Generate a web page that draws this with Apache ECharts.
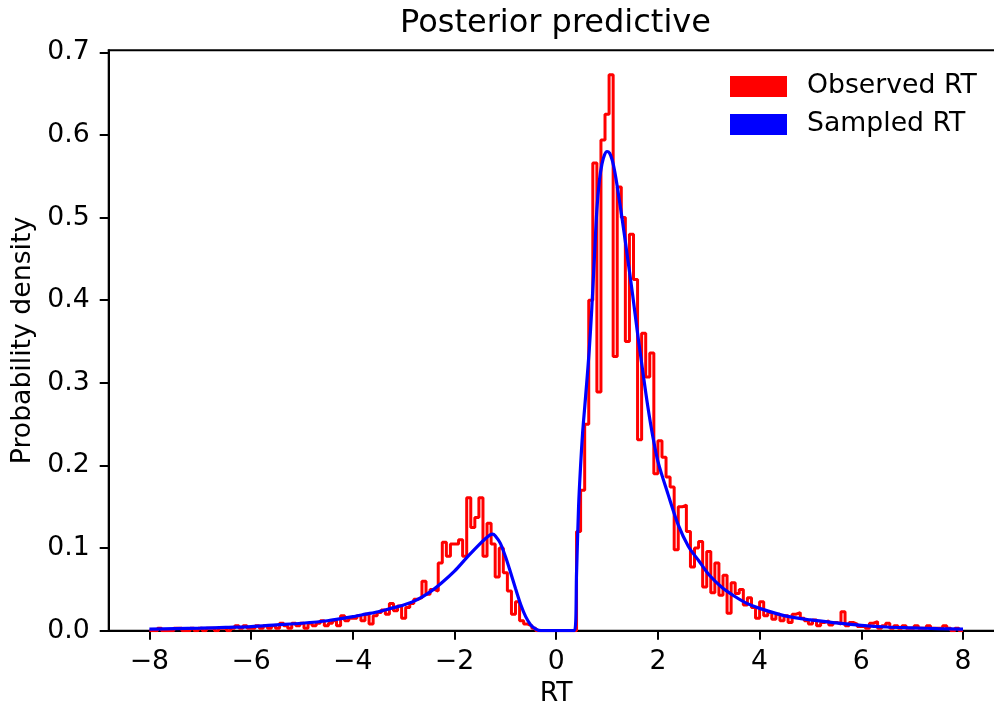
<!DOCTYPE html>
<html><head><meta charset="utf-8">
<script src="https://cdn.jsdelivr.net/npm/echarts@6/dist/echarts.min.js"></script>
<style>html,body{margin:0;padding:0;background:#fff}#c{width:994px;height:708px}</style>
</head><body><div id="c"></div>
<script>
// Observed RT histogram (step), 200 bins from -8 to 8
const binStart = -8;
const binWidth = 0.08;
const observedDensity = [
  0, 0, 0.003, 0, 0, 0, 0.003, 0.003, 0, 0,
  0.003, 0, 0.003, 0, 0.003, 0.003, 0, 0.003, 0.003, 0,
  0.003, 0.006, 0.003, 0.006, 0.003, 0.003, 0.006, 0.003, 0.006, 0.003,
  0.006, 0.003, 0.009, 0.006, 0.003, 0.009, 0.006, 0.009, 0.003, 0.009,
  0.006, 0.009, 0.012, 0.006, 0.009, 0.012, 0.006, 0.018, 0.012, 0.015,
  0.015, 0.018, 0.012, 0.020, 0.008, 0.018, 0.022, 0.025, 0.020, 0.033,
  0.024, 0.030, 0.015, 0.028, 0.033, 0.038, 0.040, 0.060, 0.044, 0.050,
  0.048, 0.082, 0.107, 0.090, 0.105, 0.105, 0.110, 0.090, 0.161, 0.125,
  0.137, 0.161, 0.090, 0.130, 0.105, 0.065, 0.100, 0.070, 0.048, 0.020,
  0.035, 0.012, 0.008, 0.006, 0.003, 0, 0, 0, 0, 0,
  0, 0, 0, 0, 0, 0.12, 0.17, 0.25, 0.40, 0.566,
  0.289, 0.594, 0.625, 0.673, 0.332, 0.537, 0.50, 0.35, 0.48, 0.425,
  0.231, 0.36, 0.307, 0.336, 0.19, 0.23, 0.21, 0.186, 0.174, 0.098,
  0.15, 0.152, 0.12, 0.077, 0.10, 0.108, 0.053, 0.096, 0.046, 0.082,
  0.043, 0.067, 0.021, 0.058, 0.045, 0.05, 0.031, 0.04, 0.028, 0.015,
  0.035, 0.018, 0.022, 0.014, 0.02, 0.012, 0.018, 0.01, 0.02, 0.022,
  0.015, 0.012, 0.008, 0.013, 0.006, 0.01, 0.012, 0.007, 0.01, 0.008,
  0.023, 0.006, 0.01, 0.008, 0.005, 0.006, 0.003, 0.009, 0.011, 0.003,
  0.006, 0.009, 0.003, 0.006, 0.003, 0.006, 0.003, 0.003, 0.006, 0.003,
  0.003, 0.006, 0.003, 0.003, 0.003, 0.006, 0.003, 0, 0.003, 0
];
// Sampled RT density (smooth curve)
const sampledX = [
  -8.0, -7.5, -7.0, -6.5, -6.0, -5.5, -5.0, -4.5, -4.0, -3.75,
  -3.5, -3.25, -3.0, -2.75, -2.5, -2.25, -2.0, -1.75, -1.5, -1.4,
  -1.3, -1.25, -1.2, -1.1, -1.0, -0.9, -0.8, -0.7,
  -0.6, -0.5, -0.4, -0.3, 0.36, 0.40, 0.44, 0.48, 0.52, 0.56,
  0.60, 0.65, 0.70, 0.75, 0.80, 0.85, 0.90, 0.95, 1.00, 1.05,
  1.10, 1.15, 1.20, 1.30, 1.40, 1.50, 1.60, 1.70, 1.80, 1.90, 2.00,
  2.20, 2.40, 2.60, 2.80, 3.00, 3.25, 3.50, 3.75, 4.00, 4.50,
  5.00, 5.50, 6.00, 6.50, 7.00, 7.50, 8.00
];
const sampledY = [
  0.002, 0.0025, 0.003, 0.004, 0.005, 0.007, 0.009, 0.012, 0.017, 0.020,
  0.023, 0.027, 0.031, 0.037, 0.046, 0.058, 0.072, 0.089, 0.105, 0.111,
  0.116, 0.117, 0.115, 0.106, 0.090, 0.071, 0.051, 0.032,
  0.017, 0.007, 0.002, 0, 0, 0.07, 0.15, 0.20, 0.24, 0.27,
  0.30, 0.34, 0.39, 0.45, 0.51, 0.545, 0.565, 0.576, 0.580, 0.578,
  0.570, 0.556, 0.538, 0.497, 0.453, 0.408, 0.36, 0.315, 0.272, 0.235, 0.205,
  0.165, 0.128, 0.102, 0.085, 0.068, 0.053, 0.042, 0.033, 0.027, 0.018,
  0.013, 0.0095, 0.0065, 0.0045, 0.0035, 0.0025, 0.002
];
const xTicks = [-8, -6, -4, -2, 0, 2, 4, 6, 8];
const yTicks = [0, 0.1, 0.2, 0.3, 0.4, 0.5, 0.6, 0.7];
const seriesNames = ['Observed RT', 'Sampled RT'];
const titleText = 'Posterior predictive';
const xName = 'RT';
const yName = 'Probability density';

const stepData = [[binStart, 0]];
observedDensity.forEach((v, i) => stepData.push([+(binStart + binWidth * i).toFixed(4), v]));
const lastEdge = +(binStart + binWidth * observedDensity.length).toFixed(4);
stepData.push([lastEdge, observedDensity[observedDensity.length - 1]]);
stepData.push([lastEdge, 0]);
const curveData = sampledX.map((x, i) => [x, sampledY[i]]);

const FONT = 'DejaVu Sans';
const FS = 26.7;
const chart = echarts.init(document.getElementById('c'), null, {renderer: 'canvas'});
chart.setOption({
  animation: false,
  backgroundColor: '#fff',
  title: {
    text: titleText, left: 395, top: 3,
    textStyle: {fontFamily: FONT, fontSize: 32, fontWeight: 'normal', color: '#000'}
  },
  legend: {
    orient: 'vertical', left: 725, top: 68,
    itemWidth: 57, itemHeight: 21, itemGap: 11,
    icon: 'rect',
    textStyle: {fontFamily: FONT, fontSize: FS, color: '#000', padding: [0, 0, 0, 15]},
    data: [
      {name: seriesNames[0], itemStyle: {color: '#ff0000', borderWidth: 0}},
      {name: seriesNames[1], itemStyle: {color: '#0000ff', borderWidth: 0}}
    ]
  },
  grid: {
    left: 108.7, top: 50.3, right: -9.7, bottom: 77.3,
    show: true, borderColor: '#000', borderWidth: 2, backgroundColor: 'transparent',
    containLabel: false, outerBoundsMode: 'none'
  },
  xAxis: {
    type: 'value', min: -8.8, max: 8.8,
    name: xName, nameLocation: 'middle', nameGap: 49,
    nameTextStyle: {fontFamily: FONT, fontSize: FS, color: '#000'},
    splitLine: {show: false},
    axisLine: {show: true, onZero: false, lineStyle: {color: '#000', width: 2}},
    axisTick: {show: true, inside: false, length: 9, lineStyle: {color: '#000', width: 2}, customValues: xTicks},
    axisLabel: {
      customValues: xTicks, margin: 18,
      fontFamily: FONT, fontSize: FS, color: '#000',
      formatter: v => String(v).replace('-', '\u2212')
    }
  },
  yAxis: {
    type: 'value', min: 0, max: 0.7025,
    name: yName, nameLocation: 'middle', nameGap: 72, nameRotate: 90,
    nameTextStyle: {fontFamily: FONT, fontSize: FS, color: '#000'},
    splitLine: {show: false},
    axisLine: {show: true, onZero: false, lineStyle: {color: '#000', width: 2}},
    axisTick: {show: true, inside: false, length: 9, lineStyle: {color: '#000', width: 2}, customValues: yTicks},
    axisLabel: {
      customValues: yTicks, margin: 19,
      fontFamily: FONT, fontSize: FS, color: '#000',
      formatter: v => Number(v).toFixed(1)
    }
  },
  series: [
    {
      name: seriesNames[0], type: 'line', step: 'end', data: stepData,
      showSymbol: false, symbol: 'none', clip: true,
      lineStyle: {color: '#ff0000', width: 3}, itemStyle: {color: '#ff0000'}, z: 2
    },
    {
      name: seriesNames[1], type: 'line', data: curveData,
      showSymbol: false, symbol: 'none', smooth: 0.3, clip: true,
      lineStyle: {color: '#0000ff', width: 3.2}, itemStyle: {color: '#0000ff'}, z: 3
    }
  ]
});
</script>
</body></html>
